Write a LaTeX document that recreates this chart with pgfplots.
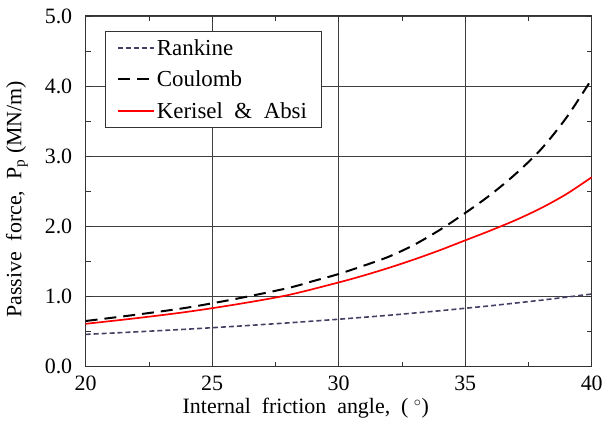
\documentclass[border=0pt]{standalone}
\usepackage{pgfplots}
\pgfplotsset{compat=1.18}
\usetikzlibrary{calc}
\usepackage{fontspec}
\setmainfont{Liberation Serif}
\definecolor{rank}{RGB}{72,62,100}
\begin{document}
\begin{tikzpicture}[font=\fontsize{21}{24}\selectfont]
\begin{axis}[
  scale only axis, width=508pt, height=352pt,
  xmin=20, xmax=40, ymin=0, ymax=5,
  xtick={20,25,...,40}, ytick={0,1,...,5},
  minor x tick num=1, minor y tick num=1,
  yticklabel style={xshift=-10pt, /pgf/number format/.cd,fixed,fixed zerofill,precision=1},
  /pgf/number format/assume math mode=true,
  tick align=inside, major tick length=6pt, minor tick length=5pt,
  grid=major, major grid style={black!75, line width=0.7pt},
  axis line style={black!80, line width=0.9pt},
  tick style={black!80, line width=0.7pt},
  xticklabel style={yshift=-6pt},
  ticklabel style={font=\fontsize{22}{24}\selectfont},
  xlabel={Internal\ \ friction\ \ angle,\ \ ( $^\circ$)},
  ylabel={Passive\ \ force,\ \ P$_\mathrm{p}$ (MN/m)},
  xlabel style={at={(axis description cs:0.435,-0.119)}, anchor=center, font=\fontsize{22}{24}\selectfont},
  ylabel style={at={(axis description cs:-0.1358,0.477)}, anchor=center, font=\fontsize{22}{24}\selectfont},
  legend style={at={(axis description cs:0.0374,0.957)}, anchor=north west, draw=black!80, line width=0.9pt, font=\fontsize{23}{28}\selectfont, inner xsep=12pt, inner ysep=6pt, row sep=10pt, fill=white},
  legend cell align=left,
  legend image code/.code={\draw[#1] (0pt,0pt) -- (36pt,0pt);},
]
\addplot[rank, line width=1.6pt, dash pattern=on 5pt off 3pt] coordinates {
(20,0.459)(22,0.495)(24,0.533)(26,0.576)(28,0.623)(30,0.675)(32,0.732)(34,0.796)(36,0.867)(38,0.946)(40,1.035)};
\addlegendentry{Rankine}
\addplot[black, line width=2pt, dash pattern=on 12pt off 7pt, smooth] coordinates {
(20,0.65)(22,0.74)(24,0.84)(26,0.97)(28,1.12)(29,1.22)(30,1.32)(31,1.44)(32,1.57)(33,1.74)(34,1.95)(35,2.19)(36,2.45)(37,2.75)(38,3.1)(39,3.55)(40,4.1)};
\addlegendentry{Coulomb}
\addplot[red, line width=1.7pt, smooth] coordinates {
(20,0.61)(22,0.69)(24,0.78)(26,0.89)(28,1.02)(30,1.2)(31,1.3)(32,1.41)(33,1.53)(34,1.66)(35,1.8)(36,1.94)(37,2.09)(38,2.26)(39,2.46)(40,2.7)};
\addlegendentry{Kerisel\ \ \&\ \ Absi}
\end{axis}
\path ($(current axis.south west)+(-86pt,-73pt)$) rectangle ($(current axis.north east)+(12pt,16pt)$);
\end{tikzpicture}
\end{document}
